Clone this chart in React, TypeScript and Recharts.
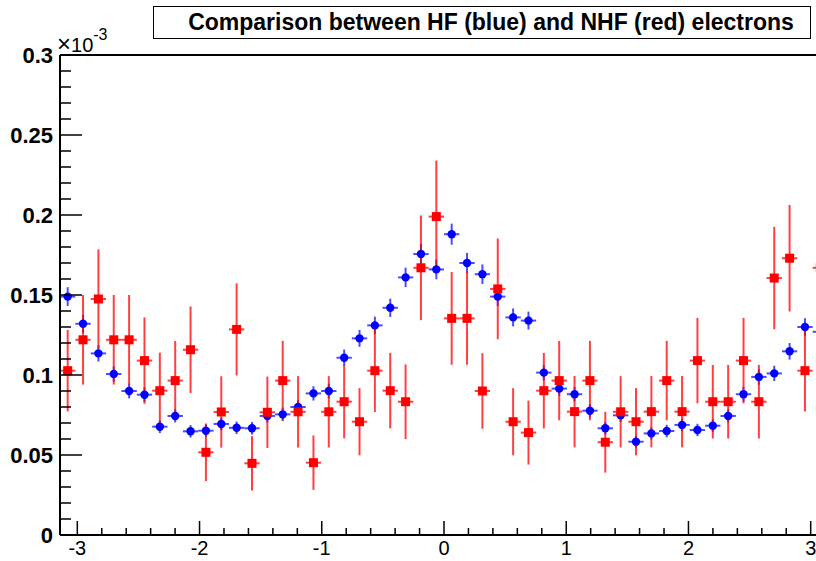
import React from "react";
import {
  ScatterChart,
  Scatter,
  XAxis,
  YAxis,
  ErrorBar,
  ReferenceLine,
} from "recharts";

// bin centres in phi (50 bins over -pi..pi)
const binCenters = [
  -3.0788, -2.9531, -2.8274, -2.7018, -2.5761, -2.4504, -2.3248, -2.1991, -2.0735, -1.9478,
  -1.8221, -1.6965, -1.5708, -1.4451, -1.3195, -1.1938, -1.0681, -0.9425, -0.8168, -0.6912,
  -0.5655, -0.4398, -0.3142, -0.1885, -0.0628, 0.0628, 0.1885, 0.3142, 0.4398, 0.5655,
  0.6912, 0.8168, 0.9425, 1.0681, 1.1938, 1.3195, 1.4451, 1.5708, 1.6965, 1.8221,
  1.9478, 2.0735, 2.1991, 2.3248, 2.4504, 2.5761, 2.7018, 2.8274, 2.9531, 3.0788,
];
const binHalfWidth = 0.0628;

// HF electrons (blue), units of 1e-3
const hfValues = [
  0.149, 0.132, 0.1135, 0.1006, 0.09, 0.0877, 0.0677, 0.0744, 0.0648, 0.0652,
  0.0694, 0.067, 0.0667, 0.0744, 0.0754, 0.08, 0.0885, 0.09, 0.1108, 0.1229,
  0.131, 0.142, 0.161, 0.1756, 0.166, 0.188, 0.17, 0.163, 0.149, 0.136,
  0.134, 0.1015, 0.0915, 0.088, 0.0777, 0.0667, 0.0748, 0.0583, 0.0635, 0.065,
  0.0688, 0.0656, 0.0683, 0.0744, 0.088, 0.0988, 0.101, 0.1148, 0.13, 0.127,
];
const hfErrors = [
  0.0059, 0.0055, 0.0051, 0.0048, 0.0046, 0.0045, 0.004, 0.0041, 0.0039, 0.0039,
  0.004, 0.0039, 0.0039, 0.0041, 0.0042, 0.0043, 0.0045, 0.0046, 0.0051, 0.0053,
  0.0055, 0.0057, 0.0061, 0.0064, 0.0062, 0.0066, 0.0063, 0.0061, 0.0059, 0.0056,
  0.0056, 0.0048, 0.0046, 0.0045, 0.0042, 0.0039, 0.0042, 0.0037, 0.0038, 0.0039,
  0.004, 0.0039, 0.004, 0.0041, 0.0045, 0.0048, 0.0048, 0.0052, 0.0055, 0.0054,
];

// NHF electrons (red), units of 1e-3
const nhfValues = [
  0.1027, 0.122, 0.1475, 0.122, 0.122, 0.109, 0.0902, 0.0965, 0.1158, 0.0517,
  0.0769, 0.1285, 0.0448, 0.0767, 0.0965, 0.077, 0.0452, 0.077, 0.0833, 0.0708,
  0.1027, 0.0902, 0.0833, 0.167, 0.199, 0.1354, 0.1354, 0.09, 0.1538, 0.0708,
  0.064, 0.0902, 0.0965, 0.0771, 0.0965, 0.058, 0.077, 0.0708, 0.0771, 0.0965,
  0.0771, 0.109, 0.0833, 0.0833, 0.109, 0.0833, 0.1606, 0.173, 0.1027, 0.167,
];
const nhfErrors = [
  0.0255, 0.028, 0.031, 0.028, 0.028, 0.027, 0.0238, 0.0248, 0.027, 0.018,
  0.0223, 0.0288, 0.017, 0.0223, 0.0248, 0.0223, 0.017, 0.0223, 0.0229, 0.021,
  0.0258, 0.0236, 0.0233, 0.0327, 0.035, 0.029, 0.029, 0.0236, 0.0315, 0.021,
  0.02, 0.0236, 0.0248, 0.0223, 0.0248, 0.019, 0.0223, 0.021, 0.0223, 0.0248,
  0.0223, 0.0267, 0.023, 0.023, 0.0267, 0.023, 0.032, 0.0333, 0.0255, 0.0327,
];

const xMajor = [-3, -2, -1, 0, 1, 2, 3];
const xLabels = ["-3", "-2", "-1", "0", "1", "2", "3"];
const yMajor = [0, 0.05, 0.1, 0.15, 0.2, 0.25, 0.3];
const yLabels = ["0", "0.05", "0.1", "0.15", "0.2", "0.25", "0.3"];

const xTicks = Array.from({ length: 31 }, (_, i) => Math.round((-3 + i * 0.2) * 10) / 10);
const yTicks = Array.from({ length: 31 }, (_, i) => i / 100);

const hfData = binCenters.map((x, i) => ({ x, y: hfValues[i], ey: hfErrors[i], ex: binHalfWidth }));
const nhfData = binCenters.map((x, i) => ({ x, y: nhfValues[i], ey: nhfErrors[i], ex: binHalfWidth }));

const FONT = "'Liberation Sans', Arial, Helvetica, sans-serif";

function majorIndex(list: number[], v: number) {
  return list.findIndex((m) => Math.abs(m - v) < 1e-6);
}

function XTick(props: any) {
  const { x, y, payload } = props;
  const idx = majorIndex(xMajor, payload.value);
  const len = idx >= 0 ? 14 : 7;
  return (
    <g>
      <line x1={x} x2={x} y1={y} y2={y - len} stroke="#000" strokeWidth={1.5} />
      {idx >= 0 && (
        <text x={x} y={y + 20} textAnchor="middle" fontFamily={FONT} fontSize={20} fill="#000">
          {xLabels[idx]}
        </text>
      )}
    </g>
  );
}

function YTick(props: any) {
  const { x, y, payload } = props;
  const idx = majorIndex(yMajor, payload.value);
  const len = idx >= 0 ? 22 : 11;
  return (
    <g>
      <line x1={x} x2={x + len} y1={y} y2={y} stroke="#000" strokeWidth={1.5} />
      {idx >= 0 && (
        <text
          x={x - 7}
          y={y + 8}
          textAnchor="end"
          fontFamily={FONT}
          fontWeight="bold"
          fontSize={22}
          fill="#000"
        >
          {yLabels[idx]}
        </text>
      )}
      {idx === yMajor.length - 1 && (
        <text x={x - 3} y={y - 3} fontFamily={FONT} fill="#000">
          <tspan fontSize={24}>×</tspan>
          <tspan fontSize={20}>10</tspan>
          <tspan dy={-12} fontSize={16}>
            -3
          </tspan>
        </text>
      )}
    </g>
  );
}

const blueDot = (p: any) => <circle cx={p.cx} cy={p.cy} r={4.2} fill="#0000ff" />;
const redSquare = (p: any) => (
  <rect x={p.cx - 4.5} y={p.cy - 4.5} width={9} height={9} fill="#ff0000" />
);

export default function App() {
  return (
    <div
      style={{
        position: "absolute",
        left: 0,
        top: 0,
        width: 816,
        height: 561,
        overflow: "hidden",
        background: "#fff",
      }}
    >
      <ScatterChart width={840} height={561} margin={{ top: 55, right: 12, bottom: 0, left: 0 }}>
        <XAxis
          type="number"
          dataKey="x"
          domain={[-Math.PI, Math.PI]}
          allowDataOverflow
          ticks={xTicks}
          interval={0}
          tickSize={0}
          tickMargin={0}
          tickLine={false}
          tick={XTick}
          axisLine={{ stroke: "#000", strokeWidth: 2 }}
          height={26}
        />
        <YAxis
          type="number"
          dataKey="y"
          domain={[0, 0.3]}
          allowDataOverflow
          ticks={yTicks}
          interval={0}
          tickSize={0}
          tickMargin={0}
          tickLine={false}
          tick={YTick}
          axisLine={{ stroke: "#000", strokeWidth: 2 }}
          width={60}
        />
        <ReferenceLine y={0.3} stroke="#000" strokeWidth={2} />
        <ReferenceLine x={Math.PI} stroke="#000" strokeWidth={2} />
        <Scatter data={hfData} shape={blueDot} isAnimationActive={false}>
          <ErrorBar dataKey="ex" direction="x" width={0} stroke="#0000ff" strokeOpacity={0.7} strokeWidth={2} />
          <ErrorBar dataKey="ey" direction="y" width={0} stroke="#0000ff" strokeOpacity={0.7} strokeWidth={2} />
        </Scatter>
        <Scatter data={nhfData} shape={redSquare} isAnimationActive={false}>
          <ErrorBar dataKey="ex" direction="x" width={0} stroke="#ff0000" strokeOpacity={0.75} strokeWidth={2} />
          <ErrorBar dataKey="ey" direction="y" width={0} stroke="#ff0000" strokeOpacity={0.75} strokeWidth={2} />
        </Scatter>
      </ScatterChart>
      <div
        style={{
          position: "absolute",
          left: 153,
          top: 6,
          width: 658,
          height: 33,
          border: "1px solid #000",
          background: "#fff",
          fontFamily: FONT,
          fontWeight: "bold",
          fontSize: 23,
          lineHeight: "31px",
          textAlign: "center",
          paddingLeft: 18,
          boxSizing: "border-box",
        }}
      >
        Comparison between HF (blue) and NHF (red) electrons
      </div>
    </div>
  );
}
